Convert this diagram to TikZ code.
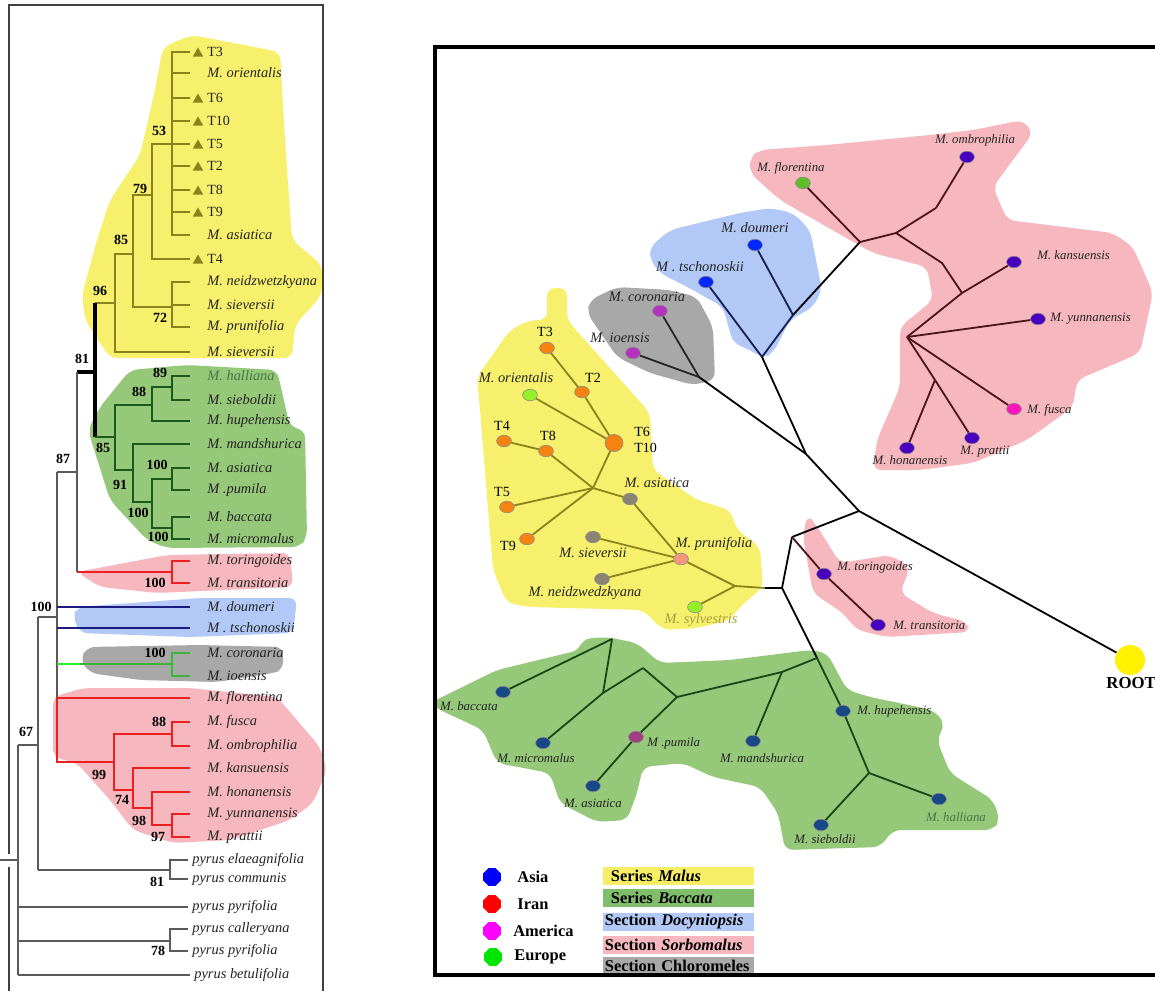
\documentclass[tikz,border=0pt]{standalone}
\usepackage{fontspec}
\setmainfont{Liberation Serif}
\usetikzlibrary{shapes.geometric}

\definecolor{olv}{RGB}{138,130,28}
\definecolor{olvtxt}{RGB}{165,160,60}
\definecolor{ylwbg}{RGB}{246,240,108}
\definecolor{grnbg}{RGB}{150,200,122}
\definecolor{redbg}{RGB}{246,184,190}
\definecolor{blubg}{RGB}{178,200,246}
\definecolor{grybg}{RGB}{168,168,168}
\definecolor{grnln}{RGB}{28,88,28}
\definecolor{grntxt}{RGB}{70,120,70}
\definecolor{redln}{RGB}{236,32,32}
\definecolor{bluln}{RGB}{28,28,128}
\definecolor{chlln}{RGB}{60,180,60}
\definecolor{chlbr}{RGB}{40,240,40}
\definecolor{bone}{RGB}{90,90,90}
\definecolor{tipgray}{RGB}{35,35,35}
\definecolor{maroon}{RGB}{75,20,25}
\definecolor{navy}{RGB}{20,30,85}
\definecolor{dkgrn}{RGB}{22,72,22}
\definecolor{orng}{RGB}{246,130,18}
\definecolor{lgrn}{RGB}{150,240,40}
\definecolor{mgray}{RGB}{140,132,115}
\definecolor{salmon}{RGB}{246,150,125}
\definecolor{purp}{RGB}{180,50,190}
\definecolor{brblue}{RGB}{0,40,255}
\definecolor{indigo}{RGB}{72,0,190}
\definecolor{flogrn}{RGB}{95,190,40}
\definecolor{hotpink}{RGB}{255,20,190}
\definecolor{steel}{RGB}{25,72,135}
\definecolor{pumpurp}{RGB}{160,62,130}
\definecolor{rootyel}{RGB}{255,242,0}
\definecolor{legblue}{RGB}{0,0,255}
\definecolor{legred}{RGB}{255,0,0}
\definecolor{legmag}{RGB}{255,0,255}
\definecolor{leggrn}{RGB}{0,230,0}
\definecolor{boxylw}{RGB}{246,238,100}
\definecolor{boxgrn}{RGB}{128,190,108}

\newcommand\tipfont{\fontsize{7.2}{8}\selectfont\itshape}
\newcommand\tfont{\fontsize{7}{8}\selectfont}
\newcommand\smfont{\fontsize{6.4}{7}\selectfont\itshape}
\newcommand\bsfont{\fontsize{7}{8}\selectfont\bfseries}
\newcommand\legfont{\fontsize{8.2}{9}\selectfont\bfseries}

\tikzset{
  tip/.style={anchor=west,inner sep=0pt,font=\tipfont,text=tipgray},
  ttip/.style={anchor=west,inner sep=0pt,font=\tfont,text=tipgray},
  tri/.style={regular polygon,regular polygon sides=3,fill=olv,inner sep=0pt,minimum size=6pt},
  bs/.style={inner sep=0pt,font=\bsfont},
  ylw/.style={olv,line width=1pt},
  grn/.style={grnln,line width=1pt},
  red/.style={redln,line width=1pt},
  blu/.style={bluln,line width=1pt},
  thk/.style={black,line width=1.6pt},
  bck/.style={bone,line width=0.7pt},
  frm/.style={black!75,line width=0.8pt},
  shade/.style={rounded corners=4pt},
  dot/.style={ellipse,draw=black!45,line width=0.3pt,minimum width=7.4pt,minimum height=5.8pt,inner sep=0pt},
  lab/.style={inner sep=0pt,font=\tipfont,text=tipgray},
  slab/.style={inner sep=0pt,font=\smfont,text=tipgray},
  net/.style={line width=0.9pt},
  legdot/.style={regular polygon,regular polygon sides=8,inner sep=0pt,minimum size=9.5pt},
  legbox/.style={anchor=west,inner xsep=0.75pt,inner ysep=0pt,minimum height=8.6pt,text width=74pt,align=left,font=\legfont},
}

\begin{document}
\begin{tikzpicture}[x=0.5pt,y=-0.5pt]
\useasboundingbox (0,0) rectangle (1155,991);
\fill[white] (0,0) rectangle (1155,991);

%%% left tree: shaded groups
\fill[ylwbg,shade] (163,47) -- (192,35) -- (280,52) -- (285,140) -- (292,240) -- (322,265) -- (322,295) -- (295,325) -- (292,358) -- (110,358) -- (85,320) -- (82,295) -- (97,240) -- (110,200) -- (140,155) -- (155,90) -- cycle;
\fill[grnbg,shade] (130,370) -- (187,365) -- (277,370) -- (290,427) -- (305,430) -- (307,537) -- (300,547) -- (167,548) -- (147,540) -- (110,500) -- (88,430) -- (100,407) -- cycle;
\fill[redbg,shade] (77,572) -- (167,555) -- (290,553) -- (293,587) -- (157,593) -- (100,587) -- cycle;
\fill[blubg,shade] (77,607) -- (200,598) -- (297,598) -- (295,617) -- (293,633) -- (190,637) -- (80,633) -- (73,617) -- cycle;
\fill[grybg,shade] (80,660) -- (87,647) -- (200,645) -- (283,647) -- (283,670) -- (273,673) -- (217,682) -- (140,680) -- (90,673) -- cycle;
\fill[redbg,shade] (53,697) -- (83,688) -- (190,688) -- (277,697) -- (320,747) -- (327,770) -- (313,803) -- (290,820) -- (230,840) -- (173,843) -- (133,830) -- (110,800) -- (77,763) -- (53,757) -- cycle;

%%% left tree: frame
\draw[frm] (9,991) -- (9,867);
\draw[frm] (9,854) -- (9,5) -- (323,5) -- (323,991);

%%% left tree: tips
\coordinate (tT3) at (190,52);   \node[tri] (triT3) at (198,53.5) {};  \node[ttip] (LT3) at (207,52) {T3};
\coordinate (tOri) at (190,73);  \node[tip] (LOri) at (207,73) {M. orientalis};
\coordinate (tT6) at (190,98);   \node[tri] (triT6) at (198,99.5) {};  \node[ttip] (LT6) at (207,98) {T6};
\coordinate (tT10) at (190,121); \node[tri] (triT10) at (198,122.5) {}; \node[ttip] (LT10) at (207,121) {T10};
\coordinate (tT5) at (190,144);  \node[tri] (triT5) at (198,145.5) {}; \node[ttip] (LT5) at (207,144) {T5};
\coordinate (tT2) at (190,166);  \node[tri] (triT2) at (198,167.5) {}; \node[ttip] (LT2) at (207,166) {T2};
\coordinate (tT8) at (190,190);  \node[tri] (triT8) at (198,191.5) {}; \node[ttip] (LT8) at (207,190) {T8};
\coordinate (tT9) at (190,212);  \node[tri] (triT9) at (198,213.5) {}; \node[ttip] (LT9) at (207,212) {T9};
\coordinate (tAsi) at (190,235); \node[tip] (LAsi) at (207,235) {M. asiatica};
\coordinate (tT4) at (190,259);  \node[tri] (triT4) at (198,260.5) {}; \node[ttip] (LT4) at (207,259) {T4};
\coordinate (tNei) at (190,282); \node[tip] (LNei) at (207,282) {M. neidzwetzkyana};
\coordinate (tSie) at (190,305); \node[tip] (LSie) at (207,305) {M. sieversii};
\coordinate (tPru) at (190,327); \node[tip] (LPru) at (207,327) {M. prunifolia};
\coordinate (tSie2) at (190,352); \node[tip] (LSie2) at (207,352) {M. sieversii};

\coordinate (tHal) at (190,376); \node[tip,text=grntxt] (LHal) at (207,376) {M. halliana};
\coordinate (tSieb) at (190,400); \node[tip] (LSieb) at (207,400) {M. sieboldii};
\coordinate (tHup) at (190,421); \node[tip] (LHup) at (207,421) {M. hupehensis};
\coordinate (tMan) at (190,444); \node[tip] (LMan) at (207,444) {M. mandshurica};
\coordinate (tAsi2) at (190,468); \node[tip] (LAsi2) at (207,468) {M. asiatica};
\coordinate (tPum) at (190,490); \node[tip] (LPum) at (207,490) {M .pumila};
\coordinate (tBac) at (190,517); \node[tip] (LBac) at (207,517) {M. baccata};
\coordinate (tMic) at (190,539); \node[tip] (LMic) at (207,539) {M. micromalus};

\coordinate (tTor) at (190,561); \node[tip] (LTor) at (207,561) {M. toringoides};
\coordinate (tTra) at (190,583); \node[tip] (LTra) at (207,583) {M. transitoria};
\coordinate (tDou) at (190,607); \node[tip] (LDou) at (207,607) {M. doumeri};
\coordinate (tTsc) at (190,628); \node[tip] (LTsc) at (207,628) {M . tschonoskii};
\coordinate (tCor) at (190,653); \node[tip] (LCor) at (207,653) {M. coronaria};
\coordinate (tIoe) at (190,676); \node[tip] (LIoe) at (207,676) {M. ioensis};

\coordinate (tFlo) at (190,698); \node[tip] (LFlo) at (207,698) {M. florentina};
\coordinate (tFus) at (190,722); \node[tip] (LFus) at (207,722) {M. fusca};
\coordinate (tOmb) at (190,746); \node[tip] (LOmb) at (207,746) {M. ombrophilia};
\coordinate (tKan) at (190,768); \node[tip] (LKan) at (207,768) {M. kansuensis};
\coordinate (tHon) at (190,792); \node[tip] (LHon) at (207,792) {M. honanensis};
\coordinate (tYun) at (190,814); \node[tip] (LYun) at (207,814) {M. yunnanensis};
\coordinate (tPra) at (190,837); \node[tip] (LPra) at (207,837) {M. prattii};

\coordinate (pEla) at (188,860); \node[tip] (LEla) at (192,860) {pyrus elaeagnifolia};
\coordinate (pCom) at (188,879); \node[tip] (LCom) at (192,879) {pyrus communis};
\coordinate (pPyr) at (188,907); \node[tip] (LPyr) at (192,907) {pyrus pyrifolia};
\coordinate (pCal) at (188,929); \node[tip] (LCal) at (192,929) {pyrus calleryana};
\coordinate (pPyr2) at (188,951); \node[tip] (LPyr2) at (192,951) {pyrus pyrifolia};
\coordinate (pBet) at (190,975); \node[tip] (LBet) at (194,975) {pyrus betulifolia};

%%% left tree: inner nodes
\coordinate (y53) at (172,144);
\coordinate (y79) at (152,195);
\coordinate (y72) at (172,307);
\coordinate (y85) at (133,254);
\coordinate (y96) at (115,303);
\coordinate (k81) at (95,372);
\coordinate (g89) at (172,387);
\coordinate (g88) at (152,405);
\coordinate (g100a) at (172,479);
\coordinate (g100b) at (172,528);
\coordinate (g100c) at (152,502);
\coordinate (g91) at (133,470);
\coordinate (g85) at (115,437);
\coordinate (r100) at (172,572);
\coordinate (k87) at (77,472);
\coordinate (c100) at (172,664);
\coordinate (cmid) at (80,664);
\coordinate (r88) at (172,734);
\coordinate (r97) at (172,825);
\coordinate (r98) at (152,808);
\coordinate (r74) at (133,790);
\coordinate (r99) at (114,762);
\coordinate (k100) at (57,617);
\coordinate (k67) at (38,745);
\coordinate (p81) at (170,870);
\coordinate (p78) at (170,941);
\coordinate (kroot) at (18,860);
\coordinate (k0) at (0,860);

% Malus
\draw[ylw] (y53) |- (tT3);  \draw[ylw] (y53) |- (tOri); \draw[ylw] (y53) |- (tT6);
\draw[ylw] (y53) |- (tT10); \draw[ylw] (y53) |- (tT5);  \draw[ylw] (y53) |- (tT2);
\draw[ylw] (y53) |- (tT8);  \draw[ylw] (y53) |- (tT9);  \draw[ylw] (y53) |- (tAsi);
\draw[ylw] (y79) |- (y53);  \draw[ylw] (y79) |- (tT4);
\draw[ylw] (y72) |- (tNei); \draw[ylw] (y72) |- (tSie); \draw[ylw] (y72) |- (tPru);
\draw[ylw] (y85) |- (y79);  \draw[ylw] (y85) |- (y72);
\draw[ylw] (y96) |- (y85);  \draw[ylw] (y96) |- (tSie2);
\draw[ylw] (k81 |- y96) -- (y96);
\draw[thk] (k81 |- y96) -- (k81 |- g85);
\draw[thk] (k87 |- k81) -- (k81);

% Baccata
\draw[grn] (k81 |- g85) -- (g85);
\draw[grn] (g89) |- (tHal);  \draw[grn] (g89) |- (tSieb);
\draw[grn] (g88) |- (g89);   \draw[grn] (g88) |- (tHup);
\draw[grn] (g85) |- (g88);   \draw[grn] (g85) |- (g91);
\draw[grn] (g91) |- (tMan);  \draw[grn] (g91) |- (g100c);
\draw[grn] (g100c) |- (g100a); \draw[grn] (g100c) |- (g100b);
\draw[grn] (g100a) |- (tAsi2); \draw[grn] (g100a) |- (tPum);
\draw[grn] (g100b) |- (tBac);  \draw[grn] (g100b) |- (tMic);

% Sorbomalus (toringoides)
\draw[red] (k87 |- r100) -- (r100);
\draw[red] (r100) |- (tTor); \draw[red] (r100) |- (tTra);

% backbone
\draw[bck] (k87 |- k81) -- (k87 |- r100);
\draw[bck] (k100 |- k87) -- (k87);
\draw[bck] (k100 |- k87) -- (k100 |- tFlo);
\draw[bck] (k67 |- k100) -- (k100);
\draw[bck] (k67 |- k100) -- (k67 |- p81);
\draw[bck] (kroot |- k67) -- (k67);
\draw[bck] (kroot |- k67) -- (kroot |- pBet);
\draw[bck] (k0) -- (kroot);

% Docyniopsis
\draw[blu] (k100 |- tDou) -- (tDou);
\draw[blu] (k100 |- tTsc) -- (tTsc);

% Chloromeles
\draw[chlbr,line width=1pt] (k100 |- c100) -- (cmid);
\draw[chlln,line width=1pt] (cmid) -- (c100);
\draw[chlln,line width=1pt] (c100) |- (tCor);
\draw[chlln,line width=1pt] (c100) |- (tIoe);

% Sorbomalus
\draw[red] (k100 |- tFlo) -- (tFlo);
\draw[red] (k100 |- tFlo) -- (k100 |- r99) -- (r99);
\draw[red] (r99) |- (r88);  \draw[red] (r99) |- (r74);
\draw[red] (r88) |- (tFus); \draw[red] (r88) |- (tOmb);
\draw[red] (r74) |- (tKan); \draw[red] (r74) |- (r98);
\draw[red] (r98) |- (tHon); \draw[red] (r98) |- (r97);
\draw[red] (r97) |- (tYun); \draw[red] (r97) |- (tPra);

% pyrus
\draw[bck] (k67 |- p81) -- (p81);
\draw[bck] (p81) |- (pEla); \draw[bck] (p81) |- (pCom);
\draw[bck] (kroot |- pPyr) -- (pPyr);
\draw[bck] (kroot |- p78) -- (p78);
\draw[bck] (p78) |- (pCal); \draw[bck] (p78) |- (pPyr2);
\draw[bck] (kroot |- pBet) -- (pBet);

% bootstrap values
\node[bs] (b53) at (159,131) {53};
\node[bs] (b79) at (140,189) {79};
\node[bs] (b85) at (121,240) {85};
\node[bs] (b96) at (100,291) {96};
\node[bs] (b72) at (160,318) {72};
\node[bs] (b81) at (82,359) {81};
\node[bs] (b89) at (160,373) {89};
\node[bs] (b88) at (139,392) {88};
\node[bs] (b85g) at (103,448) {85};
\node[bs] (b87) at (63,459) {87};
\node[bs] (b100a) at (157,465) {100};
\node[bs] (b91) at (120,485) {91};
\node[bs] (b100c) at (138,513) {100};
\node[bs] (b100b) at (158,537) {100};
\node[bs] (b100r) at (155,583) {100};
\node[bs] (b100k) at (41,607) {100};
\node[bs] (b100ch) at (155,653) {100};
\node[bs] (b88r) at (159,722) {88};
\node[bs] (b67) at (26,732) {67};
\node[bs] (b99) at (99,775) {99};
\node[bs] (b74) at (122,800) {74};
\node[bs] (b98) at (139,821) {98};
\node[bs] (b97) at (158,837) {97};
\node[bs] (b81p) at (157,882) {81};
\node[bs] (b78) at (158,951) {78};

%%% network: shaded groups
\fill[ylwbg,shade] (547,288) -- (567,288) -- (567,320) -- (650,413) -- (653,470) -- (697,500) -- (730,510) -- (737,530) -- (760,547) -- (763,587) -- (740,607) -- (730,620) -- (697,628) -- (663,630) -- (643,610) -- (530,607) -- (507,603) -- (493,570) -- (480,410) -- (477,377) -- (510,330) -- (530,320) -- (547,320) -- cycle;
\fill[grybg,shade] (590,300) -- (617,287) -- (670,290) -- (697,297) -- (713,327) -- (715,380) -- (693,385) -- (650,373) -- (617,357) -- (587,313) -- cycle;
\fill[blubg,shade] (650,247) -- (670,230) -- (740,213) -- (770,208) -- (793,213) -- (810,230) -- (822,290) -- (813,307) -- (790,320) -- (773,353) -- (763,358) -- (750,350) -- (733,343) -- (723,307) -- (693,290) -- (660,273) -- (650,260) -- cycle;
\fill[redbg,shade] (750,157) -- (760,150) -- (827,145) -- (930,135) -- (973,130) -- (1023,120) -- (1033,133) -- (993,187) -- (1007,220) -- (1113,233) -- (1133,247) -- (1153,293) -- (1140,353) -- (1077,380) -- (1073,407) -- (1027,440) -- (973,463) -- (920,470) -- (873,470) -- (877,440) -- (900,387) -- (900,327) -- (933,300) -- (927,267) -- (873,253) -- (827,227) -- (780,200) -- (750,173) -- cycle;
\fill[redbg,shade] (807,515) -- (815,523) -- (840,563) -- (890,555) -- (910,567) -- (900,593) -- (933,613) -- (967,622) -- (970,632) -- (887,637) -- (857,630) -- (843,613) -- (813,593) -- (803,537) -- cycle;
\fill[grnbg,shade] (430,703) -- (497,670) -- (580,650) -- (582,639) -- (607,637) -- (637,643) -- (660,663) -- (730,660) -- (810,650) -- (827,653) -- (847,690) -- (870,697) -- (933,710) -- (945,723) -- (937,740) -- (950,773) -- (993,800) -- (1000,820) -- (993,830) -- (893,830) -- (880,847) -- (785,850) -- (778,813) -- (760,787) -- (713,777) -- (683,763) -- (643,767) -- (637,793) -- (627,820) -- (597,822) -- (560,803) -- (550,773) -- (497,763) -- (483,730) -- (440,710) -- cycle;

%%% network: taxa
\node[dot,fill=orng] (nT3) at (547,348) {};
\node[dot,fill=orng] (nT2) at (582,392) {};
\node[dot,fill=lgrn] (nOri) at (530,395) {};
\node[dot,fill=orng,minimum width=9pt,minimum height=8.6pt] (nT610) at (614,443) {};
\node[dot,fill=orng] (nT4) at (504,441) {};
\node[dot,fill=orng] (nT8) at (546,451) {};
\node[dot,fill=orng] (nT5) at (507,507) {};
\node[dot,fill=orng] (nT9) at (527,539) {};
\node[dot,fill=mgray] (nAsi) at (630,499) {};
\node[dot,fill=salmon] (nPru) at (681,559) {};
\node[dot,fill=mgray] (nSie) at (593,537) {};
\node[dot,fill=mgray] (nNei) at (602,579) {};
\node[dot,fill=lgrn] (nSyl) at (695,607) {};
\coordinate (jA) at (593,488);
\coordinate (jB) at (735,586);
\coordinate (jC) at (765,588);

\node[dot,fill=purp] (nCor) at (660,311) {};
\node[dot,fill=purp] (nIoe) at (633,353) {};
\coordinate (q1) at (699,377);

\node[dot,fill=brblue] (nDou) at (755,245) {};
\node[dot,fill=brblue] (nTsc) at (706,282) {};
\coordinate (b1) at (793,315);
\coordinate (b2) at (762,357);

\node[dot,fill=flogrn] (nFlo) at (803,183) {};
\node[dot,fill=indigo] (nOmb) at (967,157) {};
\node[dot,fill=indigo] (nKan) at (1014,262) {};
\node[dot,fill=indigo] (nYun) at (1038,319) {};
\node[dot,fill=hotpink] (nFus) at (1014,409) {};
\node[dot,fill=indigo] (nPra) at (972,438) {};
\node[dot,fill=indigo] (nHon) at (907,448) {};
\coordinate (s0) at (860,242);
\coordinate (s1) at (896,233);
\coordinate (s2) at (936,208);
\coordinate (s3) at (942,263);
\coordinate (s4) at (962,293);
\coordinate (s5) at (907,337);
\coordinate (s6) at (935,380);

\coordinate (c1) at (806,454);
\coordinate (c2) at (859,511);
\coordinate (c3) at (792,537);
\coordinate (c4) at (782,588);
\node[dot,fill=indigo] (nTor) at (824,574) {};
\node[dot,fill=indigo] (nTra) at (878,625) {};
\node[circle,fill=rootyel,inner sep=0pt,minimum size=15pt] (nRoot) at (1130,660) {};

\node[dot,fill=steel] (nBac) at (503,692) {};
\node[dot,fill=steel] (nMic) at (543,743) {};
\node[dot,fill=pumpurp] (nPum) at (636,737) {};
\node[dot,fill=steel] (nAsi2) at (593,786) {};
\node[dot,fill=steel] (nMan) at (753,741) {};
\node[dot,fill=steel] (nHup) at (843,711) {};
\node[dot,fill=steel] (nSieb) at (821,825) {};
\node[dot,fill=steel] (nHal) at (939,799) {};
\coordinate (h1) at (612,639);
\coordinate (h2) at (603,693);
\coordinate (h3) at (643,668);
\coordinate (h4) at (677,697);
\coordinate (h5) at (782,672);
\coordinate (h6) at (817,658);
\coordinate (h7) at (869,773);

%%% network: edges
\draw[net,olv] (nT3) -- (nT2);  \draw[net,olv] (nT2) -- (nT610);
\draw[net,olv] (nOri) -- (nT610); \draw[net,olv] (nT610) -- (jA);
\draw[net,olv] (nT4) -- (nT8);  \draw[net,olv] (nT8) -- (jA);
\draw[net,olv] (jA) -- (nT5);   \draw[net,olv] (jA) -- (nT9);
\draw[net,olv] (jA) -- (nAsi);  \draw[net,olv] (nAsi) -- (nPru);
\draw[net,olv] (nSie) -- (nPru); \draw[net,olv] (nNei) -- (nPru);
\draw[net,olv] (nPru) -- (jB);  \draw[net,olv] (jB) -- (nSyl);
\draw[net,olv] (jB) -- (jC);
\draw[net,black] (jC) -- (c4);

\draw[net,black!85] (nCor) -- (q1); \draw[net,black!85] (nIoe) -- (q1);
\draw[net,black] (q1) -- (c1);

\draw[net,navy] (nDou) -- (b1); \draw[net,navy] (nTsc) -- (b2);
\draw[net,navy] (b2) -- (b1);
\draw[net,black] (b1) -- (s0); \draw[net,black] (b2) -- (c1);

\draw[net,maroon] (nFlo) -- (s0); \draw[net,maroon] (s0) -- (s1);
\draw[net,maroon] (s1) -- (s2);   \draw[net,maroon] (s2) -- (nOmb);
\draw[net,maroon] (s1) -- (s3) -- (s4);
\draw[net,maroon] (s4) -- (nKan); \draw[net,maroon] (s4) -- (s5);
\draw[net,maroon] (s5) -- (nYun); \draw[net,maroon] (s5) -- (nFus);
\draw[net,maroon] (s5) -- (s6);   \draw[net,maroon] (s6) -- (nPra);
\draw[net,maroon] (s6) -- (nHon);

\draw[net,black] (c1) -- (c2); \draw[net,black] (c2) -- (nRoot);
\draw[net,black] (c2) -- (c3); \draw[net,black] (c3) -- (c4);
\draw[net,maroon] (c3) -- (nTor); \draw[net,maroon] (nTor) -- (nTra);
\draw[net,black] (c4) -- (h6);

\draw[net,dkgrn] (h6) -- (nHup); \draw[net,dkgrn] (nHup) -- (h7);
\draw[net,dkgrn] (h7) -- (nSieb); \draw[net,dkgrn] (h7) -- (nHal);
\draw[net,dkgrn] (h6) -- (h5); \draw[net,dkgrn] (h5) -- (nMan);
\draw[net,dkgrn] (h5) -- (h4); \draw[net,dkgrn] (h4) -- (nPum);
\draw[net,dkgrn] (nPum) -- (nAsi2); \draw[net,dkgrn] (h4) -- (h3);
\draw[net,dkgrn] (h3) -- (h2); \draw[net,dkgrn] (h2) -- (nMic);
\draw[net,dkgrn] (h2) -- (h1); \draw[net,dkgrn] (h1) -- (nBac);

%%% network: labels
\node[inner sep=0pt,font=\tfont] (lT3) at (545,332) {T3};
\node[inner sep=0pt,font=\tfont] (lT2) at (593,378) {T2};
\node[lab] (lOri) at (516,378) {M. orientalis};
\node[inner sep=0pt,font=\tfont,anchor=west] (lT6) at (634,432) {T6};
\node[inner sep=0pt,font=\tfont,anchor=west] (lT10) at (634,448) {T10};
\node[inner sep=0pt,font=\tfont] (lT4) at (502,426) {T4};
\node[inner sep=0pt,font=\tfont] (lT8) at (548,436) {T8};
\node[inner sep=0pt,font=\tfont] (lT5) at (502,492) {T5};
\node[inner sep=0pt,font=\tfont] (lT9) at (508,546) {T9};
\node[lab] (lAsi) at (657,483) {M. asiatica};
\node[lab] (lPru) at (714,544) {M. prunifolia};
\node[lab] (lSie) at (593,553) {M. sieversii};
\node[lab] (lNei) at (585,593) {M. neidzwedzkyana};
\node[lab,text=olvtxt] (lSyl) at (701,620) {M. sylvestris};

\node[lab] (lCor) at (647,297) {M. coronaria};
\node[lab] (lIoe) at (620,338) {M. ioensis};
\node[lab] (lDou) at (755,228) {M. doumeri};
\node[lab] (lTsc) at (700,267) {M . tschonoskii};

\node[slab] (lFlo) at (791,168) {M. florentina};
\node[slab] (lOmb) at (975,140) {M. ombrophilia};
\node[slab,anchor=west] (lKan) at (1037,255) {M. kansuensis};
\node[slab,anchor=west] (lYun) at (1050,319) {M. yunnanensis};
\node[slab,anchor=west] (lFus) at (1027,410) {M. fusca};
\node[slab] (lPra) at (985,452) {M. prattii};
\node[slab] (lHon) at (910,460) {M. honanensis};
\node[slab,anchor=west] (lTor) at (837,567) {M. toringoides};
\node[slab,anchor=west] (lTra) at (893,625) {M. transitoria};
\node[inner sep=0pt,font=\fontsize{8.4}{9}\selectfont\bfseries,anchor=west] (lRoot) at (1106,683) {ROOT};

\node[slab] (lBac) at (469,706) {M. baccata};
\node[slab] (lMic) at (536,758) {M. micromalus};
\node[slab,anchor=west] (lPum) at (647,743) {M .pumila};
\node[slab] (lAsi2) at (593,803) {M. asiatica};
\node[slab] (lMan) at (762,758) {M. mandshurica};
\node[slab,anchor=west] (lHup) at (857,711) {M. hupehensis};
\node[slab] (lSieb) at (825,839) {M. sieboldii};
\node[slab,text=grntxt] (lHal) at (956,817) {M. halliana};

%%% legend
\node[legdot,fill=legblue] (dAsia) at (492,877) {};
\node[legdot,fill=legred] (dIran) at (492,904) {};
\node[legdot,fill=legmag] (dAme) at (492,931) {};
\node[legdot,fill=leggrn] (dEur) at (493,957) {};
\node[anchor=west,inner sep=0pt,font=\legfont] (tAsia) at (517,877) {Asia};
\node[anchor=west,inner sep=0pt,font=\legfont] (tIran) at (517,904) {Iran};
\node[anchor=west,inner sep=0pt,font=\legfont] (tAme) at (513,931) {America};
\node[anchor=west,inner sep=0pt,font=\legfont] (tEur) at (514,957) {Europe};
\node[legbox,fill=boxylw] (kMalus) at (603,876) {\hspace{3pt}Series \textit{Malus}};
\node[legbox,fill=boxgrn] (kBacc) at (603,898) {\hspace{3pt}Series \textit{Baccata}};
\node[legbox,fill=blubg] (kDocy) at (603,922) {Section \textit{Docyniopsis}};
\node[legbox,fill=redbg] (kSorb) at (603,945) {Section \textit{Sorbomalus}};
\node[legbox,fill=grybg] (kChlo) at (603,966) {Section Chloromeles};

%%% network: frame
\draw[black,line width=2pt] (1160,47) -- (435,47) -- (435,975) -- (1160,975);
\end{tikzpicture}
\end{document}
